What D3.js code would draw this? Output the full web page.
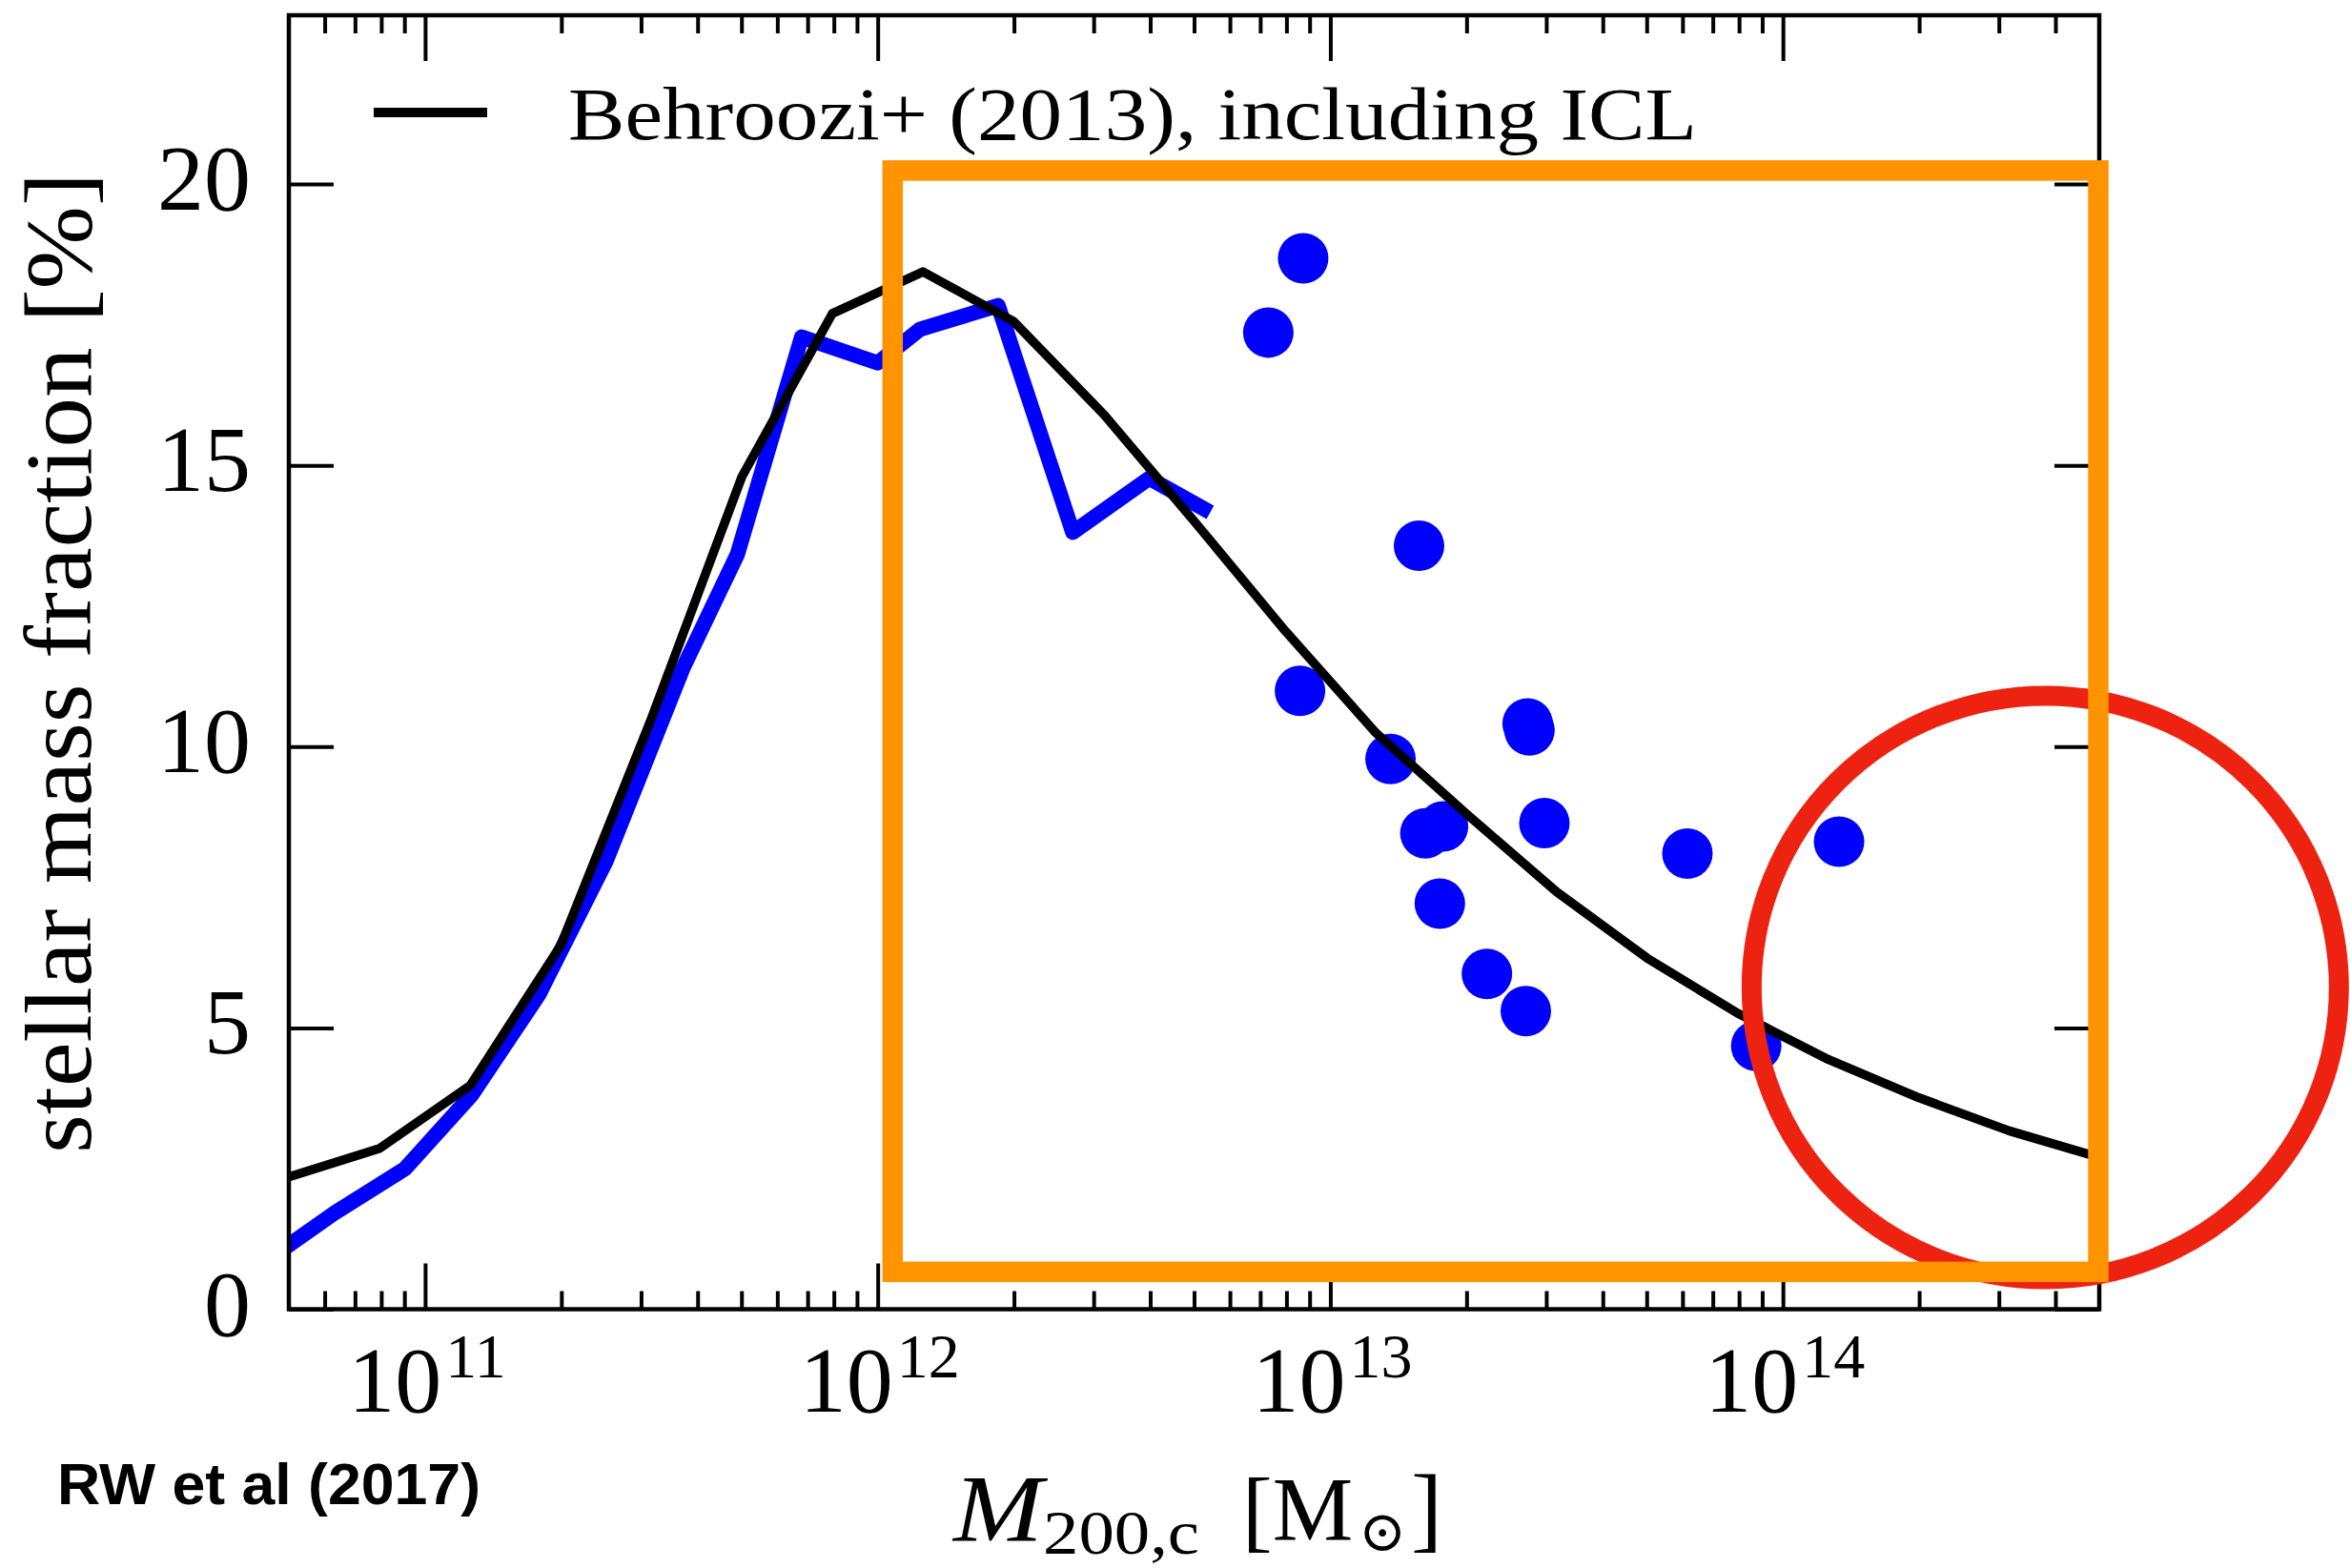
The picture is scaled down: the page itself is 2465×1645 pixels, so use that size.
<!DOCTYPE html>
<html>
<head>
<meta charset="utf-8">
<script src="https://cdn.jsdelivr.net/npm/d3@7"></script>
<style>
  html, body { margin: 0; padding: 0; background: #ffffff; }
  svg { display: block; }
</style>
</head>
<body>
<svg id="chart" width="2465" height="1645"></svg>
<script>
// Behroozi+ (2013) relation, including ICL: log10(M200c) and stellar mass fraction [%]
const behrooziLogM = [10.699, 10.9, 11.1, 11.3, 11.5, 11.7, 11.9, 12.1, 12.3, 12.5, 12.7, 12.9,
                      13.1, 13.3, 13.5, 13.7, 13.9, 14.1, 14.3, 14.5, 14.699];
const behrooziFrac = [2.35, 2.86, 3.98, 6.47, 10.5, 14.8, 17.7, 18.44, 17.56, 15.9, 14.0, 12.06,
                      10.25, 8.81, 7.42, 6.24, 5.26, 4.44, 3.76, 3.17, 2.70];

// Simulated halo sequence (blue line)
const simLogM = [10.699, 10.8, 10.956, 11.103, 11.251, 11.40, 11.57, 11.69, 11.832,
                 12.0, 12.094, 12.266, 12.431, 12.60, 12.72];
const simFrac = [1.14, 1.71, 2.50, 3.81, 5.59, 7.97, 11.4, 13.42, 17.28,
                 16.82, 17.42, 17.84, 13.81, 14.77, 14.23];

// Individual groups (blue points)
const groupLogM = [12.940, 12.863, 13.196, 12.933, 13.133, 13.436, 13.440, 13.210,
                   13.249, 13.473, 13.789, 14.124, 13.242, 13.346, 13.432, 13.941];
const groupFrac = [18.68, 17.36, 13.57, 10.99, 9.78, 10.41, 10.29, 8.46,
                   8.58, 8.64, 8.10, 8.31, 7.21, 5.96, 5.30, 4.68];

// Axis ticks
const yTicks = [0, 5, 10, 15, 20];
const xMajorExp = [11, 12, 13, 14];
const legendLabel = "Behroozi+ (2013), including ICL";

// ---------------------------------------------------------------
const svg = d3.select("#chart");
const plotLeft = 303, plotRight = 2202, plotTop = 16, plotBottom = 1373.5;

const x = d3.scaleLog().domain([5e10, 5e14]).range([plotLeft, plotRight]);
const y = d3.scaleLinear().domain([0, 23]).range([plotBottom, plotTop]);

const serif = "'Liberation Serif', 'Times New Roman', serif";

svg.append("defs").append("clipPath").attr("id", "plotClip")
  .append("rect").attr("x", plotLeft).attr("y", plotTop)
  .attr("width", plotRight - plotLeft).attr("height", plotBottom - plotTop);

const plot = svg.append("g").attr("clip-path", "url(#plotClip)");

const toPts = (lm, v) => lm.map((m, i) => [Math.pow(10, m), v[i]]);
const line = d3.line().x(d => x(d[0])).y(d => y(d[1]));

// simulated sequence
plot.append("path")
  .datum(toPts(simLogM, simFrac))
  .attr("d", line)
  .attr("fill", "none")
  .attr("stroke", "#0000ff")
  .attr("stroke-width", 16)
  .attr("stroke-linejoin", "round")
  .attr("stroke-linecap", "square");

// groups
plot.selectAll("circle.grp")
  .data(toPts(groupLogM, groupFrac))
  .join("circle")
  .attr("class", "grp")
  .attr("cx", d => x(d[0]))
  .attr("cy", d => y(d[1]))
  .attr("r", 26.5)
  .attr("fill", "#0000ff");

// abundance matching relation
plot.append("path")
  .datum(toPts(behrooziLogM, behrooziFrac))
  .attr("d", line)
  .attr("fill", "none")
  .attr("stroke", "#000000")
  .attr("stroke-width", 9.5)
  .attr("stroke-linejoin", "round");

// ---- axes (inward ticks on all four sides) ----
const minorX = [];
for (let e = 10; e <= 14; e++) {
  for (let k = 2; k <= 9; k++) {
    const v = k * Math.pow(10, e);
    if (v > 5e10 && v < 5e14) minorX.push(v);
  }
}
const majorX = xMajorExp.map(e => Math.pow(10, e));

function styleAxis(g) {
  g.select(".domain").remove();
  g.selectAll(".tick line").attr("stroke", "#000").attr("stroke-width", 4);
  g.selectAll(".tick text").remove();
}

svg.append("g").attr("transform", `translate(0,${plotBottom})`)
  .call(d3.axisBottom(x).tickValues(majorX).tickSize(-48).tickFormat(""))
  .call(styleAxis);
svg.append("g").attr("transform", `translate(0,${plotBottom})`)
  .call(d3.axisBottom(x).tickValues(minorX).tickSize(-19).tickFormat(""))
  .call(styleAxis);
svg.append("g").attr("transform", `translate(0,${plotTop})`)
  .call(d3.axisTop(x).tickValues(majorX).tickSize(-48).tickFormat(""))
  .call(styleAxis);
svg.append("g").attr("transform", `translate(0,${plotTop})`)
  .call(d3.axisTop(x).tickValues(minorX).tickSize(-19).tickFormat(""))
  .call(styleAxis);
svg.append("g").attr("transform", `translate(${plotLeft},0)`)
  .call(d3.axisLeft(y).tickValues(yTicks).tickSize(-47).tickFormat(""))
  .call(styleAxis);
svg.append("g").attr("transform", `translate(${plotRight},0)`)
  .call(d3.axisRight(y).tickValues(yTicks).tickSize(-47).tickFormat(""))
  .call(styleAxis);

// frame
svg.append("rect")
  .attr("x", plotLeft).attr("y", plotTop)
  .attr("width", plotRight - plotLeft).attr("height", plotBottom - plotTop)
  .attr("fill", "none").attr("stroke", "#000").attr("stroke-width", 4.5);

// y tick labels
svg.append("g").selectAll("text")
  .data(yTicks)
  .join("text")
  .attr("x", 263)
  .attr("y", d => y(d) + 27)
  .attr("text-anchor", "end")
  .attr("font-family", serif)
  .attr("font-size", 98)
  .attr("fill", "#000")
  .text(d => d);

// x tick labels: 10 with superscript exponent
const xl = svg.append("g").selectAll("text")
  .data(xMajorExp)
  .join("text")
  .attr("x", d => x(Math.pow(10, d)) + 2)
  .attr("y", 1481)
  .attr("text-anchor", "middle")
  .attr("font-family", serif)
  .attr("font-size", 98)
  .attr("fill", "#000");
xl.append("tspan").text("10");
xl.append("tspan").attr("dy", -36).attr("dx", 4).attr("font-size", 66).text(d => d);

// y axis title
svg.append("text")
  .attr("transform", "translate(95,695.5) rotate(-90)")
  .attr("text-anchor", "middle")
  .attr("font-family", serif)
  .attr("font-size", 99)
  .attr("textLength", 1029)
  .attr("lengthAdjust", "spacingAndGlyphs")
  .attr("fill", "#000")
  .text("stellar mass fraction [%]");

// x axis title: M_{200,c} [M_sun], set piece by piece
const xTitle = svg.append("g").attr("font-family", serif).attr("fill", "#000");
xTitle.append("text").attr("x", 1000).attr("y", 1616)
  .attr("font-size", 99).attr("font-style", "italic")
  .attr("textLength", 94).attr("lengthAdjust", "spacingAndGlyphs").text("M");
xTitle.append("text").attr("x", 1094).attr("y", 1630)
  .attr("font-size", 66)
  .attr("textLength", 164).attr("lengthAdjust", "spacingAndGlyphs").text("200,c");
xTitle.append("text").attr("x", 1303).attr("y", 1616)
  .attr("font-size", 95).text("[M");
xTitle.append("text").attr("x", 1425).attr("y", 1627)
  .attr("font-size", 60).attr("font-family", "'DejaVu Serif', serif").text("\u2299");
xTitle.append("text").attr("x", 1480).attr("y", 1616)
  .attr("font-size", 99).text("]");

// credit
svg.append("text")
  .attr("x", 60).attr("y", 1578)
  .attr("font-family", "'Liberation Sans', Arial, sans-serif")
  .attr("font-weight", "bold")
  .attr("font-size", 62)
  .attr("textLength", 444)
  .attr("lengthAdjust", "spacingAndGlyphs")
  .attr("fill", "#000")
  .text("RW et al (2017)");

// legend
svg.append("line")
  .attr("x1", 392).attr("x2", 511)
  .attr("y1", 118).attr("y2", 118)
  .attr("stroke", "#000").attr("stroke-width", 10);
svg.append("text")
  .attr("x", 596).attr("y", 146)
  .attr("font-family", serif)
  .attr("font-size", 79)
  .attr("textLength", 1184)
  .attr("lengthAdjust", "spacingAndGlyphs")
  .attr("fill", "#000")
  .text(legendLabel);

// ---- highlight overlays ----
// red circle around the high-mass end
const circleCenter = [Math.pow(10, 14.5796), 5.72];
svg.append("ellipse")
  .attr("cx", x(circleCenter[0]))
  .attr("cy", y(circleCenter[1]))
  .attr("rx", 308).attr("ry", 306)
  .attr("fill", "none")
  .attr("stroke", "#ee2211")
  .attr("stroke-width", 21);

// orange box over the group-mass regime
const boxMass = [Math.pow(10, 12.033), 5e14];
const boxFrac = [0.664, 20.24];
svg.append("rect")
  .attr("x", x(boxMass[0]))
  .attr("y", y(boxFrac[1]))
  .attr("width", x(boxMass[1]) - 1 - x(boxMass[0]))
  .attr("height", y(boxFrac[0]) - y(boxFrac[1]))
  .attr("fill", "none")
  .attr("stroke", "#ff9400")
  .attr("stroke-width", 21.5)
  .attr("stroke-linejoin", "miter");
</script>
</body>
</html>
